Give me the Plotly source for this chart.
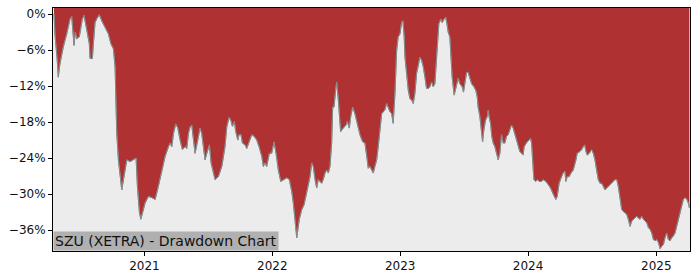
import datetime as dt
import plotly.graph_objects as go

# Time as decimal years, drawdown in percent
years = [
    2020.295, 2020.302, 2020.320, 2020.328, 2020.341, 2020.367, 2020.394, 2020.406, 2020.420, 2020.433,
    2020.441, 2020.451, 2020.461, 2020.472, 2020.492, 2020.503, 2020.516, 2020.529, 2020.542, 2020.555,
    2020.570, 2020.576, 2020.594, 2020.602, 2020.615, 2020.628, 2020.648, 2020.667, 2020.693, 2020.719,
    2020.738, 2020.758, 2020.771, 2020.779, 2020.784, 2020.797, 2020.810, 2020.823, 2020.863, 2020.888,
    2020.935, 2020.945, 2020.961, 2020.972, 2021.005, 2021.031, 2021.058, 2021.084, 2021.109, 2021.136,
    2021.162, 2021.188, 2021.201, 2021.214, 2021.227, 2021.245, 2021.261, 2021.279, 2021.297, 2021.318,
    2021.331, 2021.344, 2021.357, 2021.370, 2021.383, 2021.396, 2021.417, 2021.435, 2021.448, 2021.461,
    2021.474, 2021.488, 2021.500, 2021.508, 2021.521, 2021.539, 2021.552, 2021.578, 2021.605, 2021.630,
    2021.644, 2021.662, 2021.677, 2021.688, 2021.703, 2021.714, 2021.730, 2021.740, 2021.755, 2021.766,
    2021.787, 2021.800, 2021.818, 2021.839, 2021.859, 2021.878, 2021.896, 2021.917, 2021.930, 2021.943,
    2021.956, 2021.977, 2021.995, 2022.013, 2022.029, 2022.047, 2022.066, 2022.086, 2022.113, 2022.133,
    2022.152, 2022.164, 2022.177, 2022.191, 2022.211, 2022.230, 2022.248, 2022.263, 2022.281, 2022.295,
    2022.308, 2022.320, 2022.334, 2022.347, 2022.359, 2022.373, 2022.386, 2022.398, 2022.412, 2022.425,
    2022.438, 2022.451, 2022.464, 2022.472, 2022.482, 2022.498, 2022.503, 2022.516, 2022.523, 2022.534,
    2022.555, 2022.576, 2022.586, 2022.602, 2022.613, 2022.628, 2022.646, 2022.664, 2022.685, 2022.706,
    2022.724, 2022.738, 2022.750, 2022.763, 2022.777, 2022.789, 2022.802, 2022.816, 2022.828, 2022.841,
    2022.855, 2022.867, 2022.880, 2022.894, 2022.906, 2022.920, 2022.933, 2022.945, 2022.959, 2022.972,
    2022.984, 2022.998, 2023.011, 2023.021, 2023.031, 2023.037, 2023.050, 2023.063, 2023.076, 2023.089,
    2023.102, 2023.115, 2023.128, 2023.141, 2023.154, 2023.167, 2023.180, 2023.193, 2023.206, 2023.219,
    2023.232, 2023.245, 2023.258, 2023.271, 2023.284, 2023.292, 2023.302, 2023.318, 2023.328, 2023.344,
    2023.355, 2023.365, 2023.375, 2023.388, 2023.396, 2023.406, 2023.422, 2023.441, 2023.453, 2023.466,
    2023.484, 2023.495, 2023.505, 2023.519, 2023.531, 2023.545, 2023.558, 2023.576, 2023.591, 2023.602,
    2023.609, 2023.623, 2023.636, 2023.644, 2023.654, 2023.667, 2023.680, 2023.688, 2023.695, 2023.706,
    2023.716, 2023.727, 2023.740, 2023.753, 2023.766, 2023.779, 2023.792, 2023.805, 2023.818, 2023.831,
    2023.844, 2023.857, 2023.870, 2023.883, 2023.896, 2023.909, 2023.922, 2023.935, 2023.948, 2023.961,
    2023.969, 2023.982, 2023.992, 2024.008, 2024.019, 2024.027, 2024.034, 2024.045, 2024.060, 2024.073,
    2024.086, 2024.105, 2024.117, 2024.138, 2024.156, 2024.175, 2024.191, 2024.206, 2024.216, 2024.227,
    2024.242, 2024.261, 2024.273, 2024.287, 2024.294, 2024.305, 2024.320, 2024.334, 2024.352, 2024.373,
    2024.383, 2024.404, 2024.417, 2024.430, 2024.441, 2024.451, 2024.461, 2024.477, 2024.495, 2024.508,
    2024.521, 2024.534, 2024.547, 2024.560, 2024.573, 2024.586, 2024.599, 2024.613, 2024.625, 2024.638,
    2024.652, 2024.664, 2024.677, 2024.691, 2024.703, 2024.716, 2024.730, 2024.742, 2024.755, 2024.769,
    2024.781, 2024.795, 2024.808, 2024.820, 2024.834, 2024.847, 2024.859, 2024.873, 2024.886, 2024.898,
    2024.912, 2024.925, 2024.938, 2024.951, 2024.964, 2024.977, 2024.990, 2025.003, 2025.016, 2025.029,
    2025.042, 2025.055, 2025.068, 2025.081, 2025.094, 2025.107, 2025.120, 2025.133, 2025.146, 2025.159,
    2025.172, 2025.185, 2025.198, 2025.211, 2025.224, 2025.238, 2025.250, 2025.258,
]

drawdown = [
    0.0, -3.3, -7.7, -10.5, -8.3, -5.5, -3.3, -2.2, -0.8, -0.4,
    -3.3, -5.2, -3.0, -4.1, -3.8, -2.2, -0.8, -0.2, -1.6, -2.7,
    -4.9, -7.4, -7.4, -4.9, -1.4, -0.8, -0.1, -1.1, -2.2, -3.3,
    -4.9, -5.8, -8.8, -14.3, -19.8, -24.3, -27.1, -29.3, -24.3, -24.6,
    -24.0, -28.7, -33.1, -34.2, -31.5, -30.4, -30.6, -30.9, -28.7, -26.0,
    -23.7, -22.1, -21.5, -22.1, -19.9, -18.3, -19.0, -21.0, -22.6, -22.1,
    -22.4, -19.9, -18.8, -18.5, -21.0, -23.2, -21.0, -19.0, -19.9, -22.6,
    -24.3, -23.2, -22.1, -21.8, -24.8, -26.5, -27.6, -27.1, -25.4, -22.1,
    -18.8, -17.2, -17.8, -18.7, -17.9, -19.6, -21.0, -20.1, -20.1, -21.5,
    -21.8, -22.4, -21.3, -20.1, -20.4, -21.0, -22.1, -23.7, -25.4, -24.8,
    -25.4, -23.2, -23.2, -21.3, -23.2, -26.0, -27.9, -27.6, -27.3, -27.6,
    -29.6, -31.5, -34.2, -37.3, -34.2, -32.6, -31.8, -30.4, -28.7, -27.1,
    -24.8, -25.4, -27.6, -29.0, -27.6, -27.9, -28.2, -27.6, -26.5, -26.0,
    -26.5, -25.4, -21.5, -15.5, -15.5, -12.1, -11.3, -14.3, -16.6, -19.6,
    -19.0, -18.5, -17.9, -19.0, -17.1, -15.5, -16.6, -18.2, -20.1, -21.3,
    -21.5, -23.7, -25.7, -25.4, -26.0, -26.5, -25.4, -24.3, -22.1, -19.9,
    -16.6, -16.3, -16.0, -14.9, -15.5, -16.3, -16.6, -18.2, -13.2, -6.1,
    -3.8, -3.3, -1.4, -1.1, -3.8, -7.2, -9.9, -12.7, -14.1, -14.3,
    -14.9, -13.2, -9.9, -8.3, -7.2, -7.7, -8.8, -10.5, -12.4, -12.4,
    -12.1, -11.3, -12.1, -11.6, -7.2, -3.3, -1.6, -0.8, -1.4, -0.8,
    -0.5, -1.6, -3.0, -3.8, -7.2, -10.5, -13.5, -11.9, -10.7, -11.6,
    -12.1, -13.0, -11.3, -9.7, -9.7, -10.7, -11.6, -12.1, -12.7, -13.8,
    -15.5, -17.1, -19.3, -21.3, -19.3, -17.7, -17.1, -16.0, -17.1, -18.2,
    -20.4, -21.5, -22.1, -23.2, -24.3, -23.2, -20.1, -21.5, -21.5, -20.4,
    -20.1, -19.3, -18.5, -19.0, -20.1, -21.0, -22.1, -22.9, -23.2, -23.5,
    -22.1, -21.5, -21.3, -21.0, -20.7, -21.5, -24.3, -27.6, -27.9, -27.6,
    -27.9, -27.9, -27.6, -27.9, -28.4, -29.0, -29.8, -30.6, -30.9, -30.4,
    -28.2, -27.1, -26.5, -26.2, -27.9, -27.1, -27.1, -26.5, -26.0, -24.3,
    -23.2, -22.9, -22.6, -22.1, -21.8, -22.9, -23.5, -23.2, -22.6, -23.2,
    -24.3, -26.0, -27.6, -28.2, -28.2, -28.7, -29.3, -29.0, -28.7, -28.4,
    -28.2, -27.9, -27.6, -27.6, -28.7, -30.9, -32.6, -32.9, -33.1, -33.4,
    -34.2, -35.4, -34.5, -34.2, -34.0, -33.7, -34.0, -34.2, -33.7, -34.2,
    -34.5, -34.8, -35.6, -35.9, -36.5, -37.6, -37.8, -37.6, -38.1, -39.1,
    -38.7, -38.4, -37.3, -36.5, -37.6, -37.8, -37.3, -37.0, -36.5, -35.4,
    -34.2, -33.1, -32.3, -30.9, -30.6, -30.9, -31.5, -32.3,
]

y_ticks = [0, -6, -12, -18, -24, -30, -36]
y_tick_labels = ["0%", "\u22126%", "\u221212%", "\u221218%", "\u221224%", "\u221230%", "\u221236%"]
x_tick_years = [2021, 2022, 2023, 2024, 2025]
title_text = "SZU (XETRA) - Drawdown Chart"


def to_date(y):
    yr = int(y)
    start = dt.datetime(yr, 1, 1)
    end = dt.datetime(yr + 1, 1, 1)
    return start + (end - start) * (y - yr)


dates = [to_date(v) for v in years]
top = [5.0 for _ in years]

RED = "#b03131"
GRAY_BG = "#ececec"

fig = go.Figure()
fig.add_trace(go.Scatter(x=dates, y=drawdown, mode="lines",
                         line=dict(color="#8a8a8a", width=1), hoverinfo="skip"))
fig.add_trace(go.Scatter(x=dates, y=top, mode="lines", line=dict(width=0),
                         fill="tonexty", fillcolor=RED, hoverinfo="skip"))
fig.add_trace(go.Scatter(x=dates, y=drawdown, mode="lines",
                         line=dict(color="#8a8a8a", width=1), hoverinfo="skip"))

fig.update_layout(
    width=700, height=280,
    margin=dict(l=53, r=10, t=7, b=28),
    paper_bgcolor="white",
    plot_bgcolor=GRAY_BG,
    showlegend=False,
    font=dict(family="DejaVu Sans", size=12, color="#111111"),
    xaxis=dict(
        type="date",
        range=[to_date(2020.287), to_date(2025.263)],
        tickvals=[dt.datetime(y, 1, 1) for y in x_tick_years],
        ticktext=[str(y) for y in x_tick_years],
        ticks="outside", ticklen=4, tickcolor="black", tickwidth=1,
        showline=True, linecolor="black", linewidth=1, mirror=True,
        showgrid=False, zeroline=False,
        tickfont=dict(size=12),
    ),
    yaxis=dict(
        range=[-39.5, 1.03],
        tickvals=y_ticks, ticktext=y_tick_labels,
        ticks="outside", ticklen=4, tickcolor="black", tickwidth=1,
        showline=True, linecolor="black", linewidth=1, mirror=True,
        showgrid=False, zeroline=False,
        tickfont=dict(size=12),
    ),
    annotations=[dict(
        text=title_text, xref="paper", yref="paper", x=0, y=0,
        xanchor="left", yanchor="bottom", showarrow=False,
        bgcolor="#b0b0b0", borderpad=1,
        font=dict(family="DejaVu Sans", size=14, color="#111111"),
    )],
)

fig.write_html("out.html")
